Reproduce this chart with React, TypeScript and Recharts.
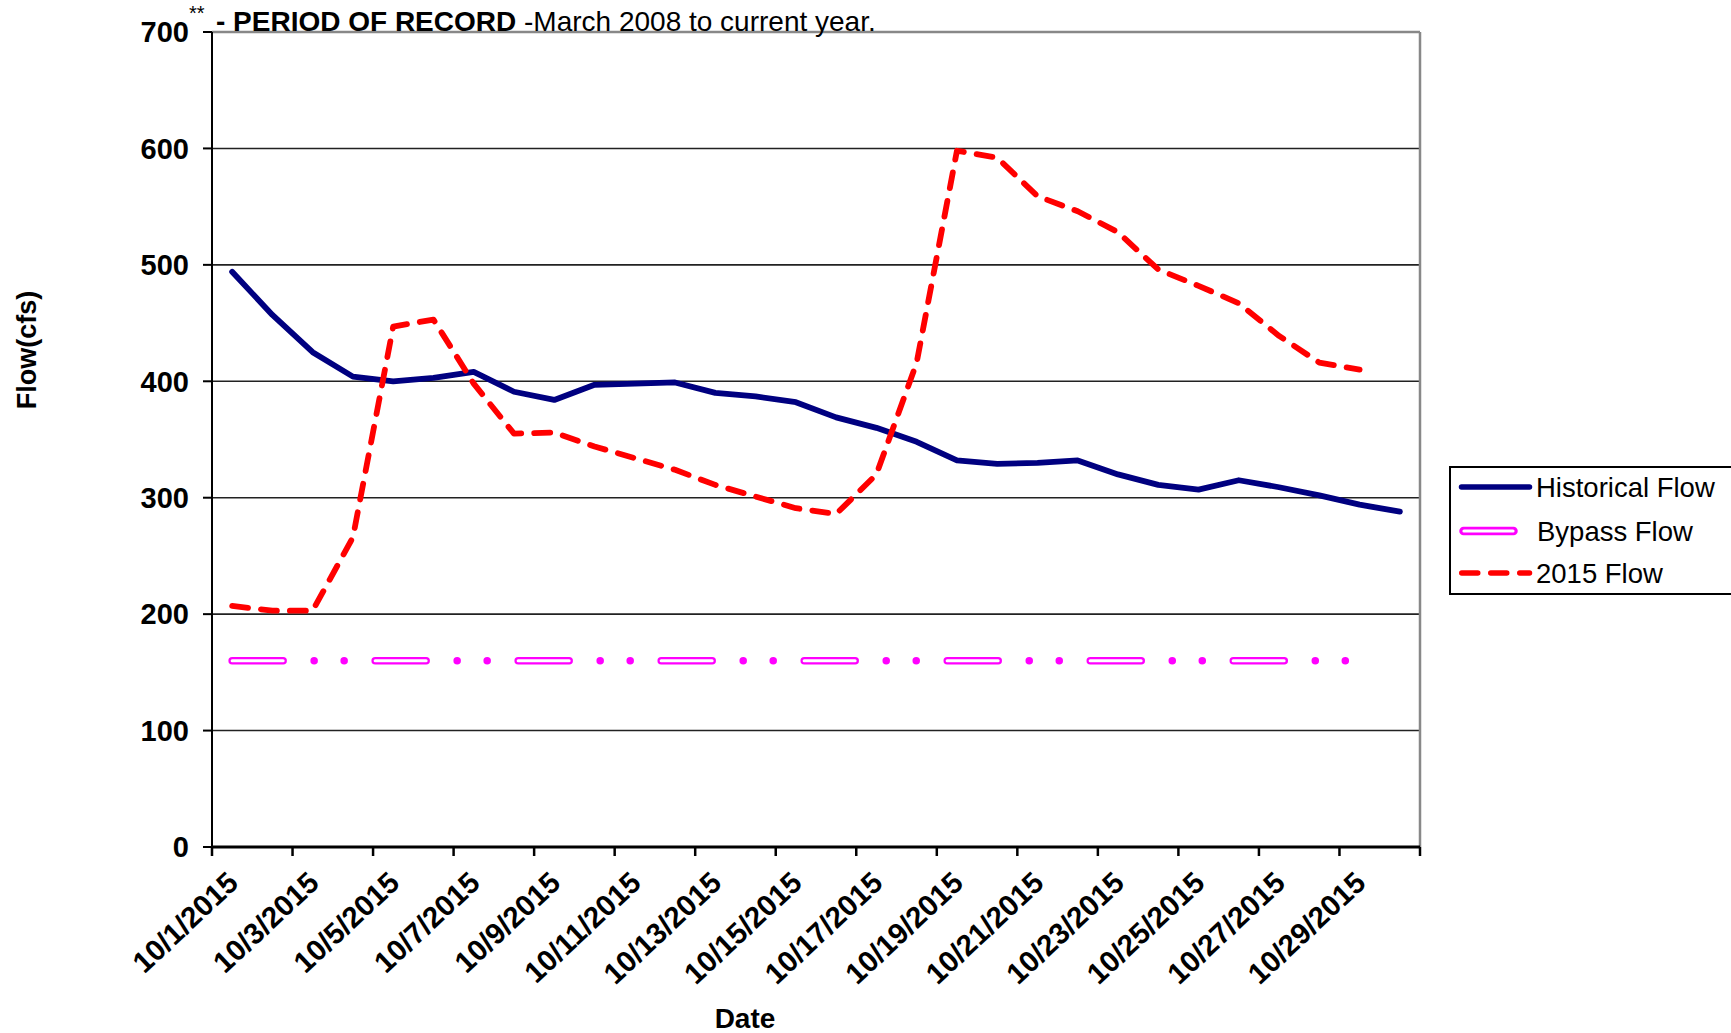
import React from 'react';
import { LineChart, Line, XAxis, YAxis, CartesianGrid, Legend, Label } from 'recharts';

const dates = [
  '10/1/2015', '10/2/2015', '10/3/2015', '10/4/2015', '10/5/2015', '10/6/2015',
  '10/7/2015', '10/8/2015', '10/9/2015', '10/10/2015', '10/11/2015', '10/12/2015',
  '10/13/2015', '10/14/2015', '10/15/2015', '10/16/2015', '10/17/2015', '10/18/2015',
  '10/19/2015', '10/20/2015', '10/21/2015', '10/22/2015', '10/23/2015', '10/24/2015',
  '10/25/2015', '10/26/2015', '10/27/2015', '10/28/2015', '10/29/2015', '10/30/2015',
];

const historicalFlow = [
  494, 457, 425, 404, 400, 403, 408, 391, 384, 397,
  398, 399, 390, 387, 382, 369, 360, 348, 332, 329,
  330, 332, 320, 311, 307, 315, 309, 302, 294, 288,
];

const bypassFlow: (number | null)[] = [
  160, 160, 160, 160, 160, 160, 160, 160, 160, 160,
  160, 160, 160, 160, 160, 160, 160, 160, 160, 160,
  160, 160, 160, 160, 160, 160, 160, 160, 160, null,
];

const flow2015: (number | null)[] = [
  207, 203, 203, 266, 447, 453, 398, 355, 356, 344,
  334, 324, 311, 301, 291, 286, 320, 416, 598, 592,
  559, 546, 528, 496, 482, 467, 439, 416, 410, null,
];

const yTicks = [0, 100, 200, 300, 400, 500, 600, 700];
const gridValues = [100, 200, 300, 400, 500, 600];

const seriesNames = ['Historical Flow', 'Bypass Flow', '2015 Flow'];
const titleParts = ['**', '- PERIOD OF RECORD ', '-March 2008 to current year.'];

const FONT = '"Liberation Sans", Arial, Helvetica, sans-serif';

// half of one category slot (plot width 1208 / 30 categories / 2)
const HALF_SLOT = 1208 / 60;

const data = dates.map((d, i) => ({
  date: d,
  historical: historicalFlow[i],
  bypass: bypassFlow[i],
  flow2015: flow2015[i],
}));

const XTick = (props: any) => {
  const { x, y, payload, index, visibleTicksCount } = props;
  const off = HALF_SLOT;
  const isLast = visibleTicksCount ? index === visibleTicksCount - 1 : payload.value === dates[28];
  const ax = x + 8;
  const ay = y + 38;
  return (
    <g>
      <line x1={x - off} y1={y} x2={x - off} y2={y + 9} stroke="#000" strokeWidth={2.5} />
      {isLast && <line x1={x + 3 * off} y1={y} x2={x + 3 * off} y2={y + 9} stroke="#000" strokeWidth={2.5} />}
      <text
        x={ax}
        y={ay}
        transform={`rotate(-43, ${ax}, ${ay})`}
        textAnchor="end"
        fill="#000"
        fontSize={29.5}
        fontWeight="bold"
        fontFamily={FONT}
      >
        {payload.value}
      </text>
    </g>
  );
};

const LegendBox = () => (
  <div
    style={{
      width: 282,
      height: 129,
      boxSizing: 'border-box',
      borderTop: '2px solid #000',
      borderLeft: '2px solid #000',
      borderBottom: '2px solid #000',
      background: '#fff',
      position: 'relative',
    }}
  >
    <svg width={280} height={125} style={{ position: 'absolute', left: 0, top: 0 }}>
      <line x1={10.5} y1={19} x2={78.5} y2={19} stroke="#000080" strokeWidth={5.5} strokeLinecap="round" />
      <text x={85} y={28.5} fontSize={27.5} fontFamily={FONT} fill="#000">{seriesNames[0]}</text>
      <line x1={12.5} y1={63} x2={62.5} y2={63} stroke="#FF00FF" strokeWidth={8.5} strokeLinecap="round" />
      <line x1={13} y1={63} x2={62} y2={63} stroke="#fff" strokeWidth={3.2} strokeLinecap="round" />
      <text x={86} y={72.5} fontSize={27.5} fontFamily={FONT} fill="#000">{seriesNames[1]}</text>
      <line x1={10.75} y1={105} x2={78.5} y2={105} stroke="#FF0000" strokeWidth={5.5} strokeLinecap="round" strokeDasharray="16 13" />
      <text x={85} y={114.5} fontSize={27.5} fontFamily={FONT} fill="#000">{seriesNames[2]}</text>
    </svg>
  </div>
);

const TitleLabel = () => (
  <text x={189} y={31} fontFamily={FONT} fill="#000">
    <tspan fontSize={20} dy={-11}>{titleParts[0]}</tspan>
    <tspan x={216} dy={11} fontSize={28} fontWeight="bold">{titleParts[1]}</tspan>
    <tspan fontSize={28}>{titleParts[2]}</tspan>
  </text>
);

const DateLabel = () => (
  <text x={745} y={1028} textAnchor="middle" fontSize={28} fontWeight="bold" fontFamily={FONT} fill="#000">
    Date
  </text>
);

const FlowLabel = () => (
  <text
    x={36}
    y={350}
    transform="rotate(-90, 36, 350)"
    textAnchor="middle"
    fontSize={27}
    fontWeight="bold"
    fontFamily={FONT}
    fill="#000"
  >
    Flow(cfs)
  </text>
);

export default function App() {
  return (
    <div
      style={{
        position: 'absolute',
        left: 0,
        top: 0,
        width: 1731,
        height: 1033,
        overflow: 'hidden',
        background: '#fff',
      }}
    >
      <LineChart
        width={1731}
        height={1033}
        data={data}
        margin={{ top: 32, right: 311, bottom: 36, left: 132 }}
      >
        <CartesianGrid vertical={false} horizontalValues={gridValues} stroke="#222" strokeWidth={1.6} />
        <CartesianGrid
          horizontalCoordinatesGenerator={(p: any) => [p.offset.top]}
          verticalCoordinatesGenerator={(p: any) => [p.offset.left + p.offset.width]}
          stroke="#888"
          strokeWidth={2.5}
        />
        <XAxis
          dataKey="date"
          interval={1}
          padding={{ left: HALF_SLOT, right: HALF_SLOT }}
          tickSize={0}
          tickMargin={0}
          tickLine={false}
          height={150}
          axisLine={{ stroke: '#000', strokeWidth: 3 }}
          tick={<XTick />}
        >
          <Label content={() => <DateLabel />} />
          <Label content={() => <TitleLabel />} />
        </XAxis>
        <YAxis
          type="number"
          domain={[0, 700]}
          ticks={yTicks}
          interval={0}
          width={80}
          tickSize={9}
          tickMargin={14}
          axisLine={{ stroke: '#000', strokeWidth: 2 }}
          tickLine={{ stroke: '#000', strokeWidth: 2 }}
          tick={{ fill: '#000', fontSize: 29, fontWeight: 'bold', fontFamily: FONT }}
        >
          <Label content={() => <FlowLabel />} />
        </YAxis>
        <Legend
          layout="horizontal"
          verticalAlign="middle"
          align="center"
          wrapperStyle={{ position: 'absolute', left: 1449, top: 466, width: 282, height: 129 }}
          content={() => <LegendBox />}
        />
        <Line
          name={seriesNames[0]}
          dataKey="historical"
          stroke="#000080"
          strokeWidth={5.8}
          strokeLinejoin="round"
          strokeLinecap="round"
          dot={false}
          activeDot={false}
          isAnimationActive={false}
        />
        <Line
          name={seriesNames[1]}
          dataKey="bypass"
          stroke="#FF00FF"
          strokeWidth={7.5}
          strokeLinecap="round"
          strokeDasharray="51 31 0.01 30 0.01 31"
          dot={false}
          activeDot={false}
          isAnimationActive={false}
        />
        <Line
          name="Bypass Flow inner"
          dataKey="bypass"
          stroke="#FFFFFF"
          strokeWidth={3}
          strokeLinecap="round"
          strokeDasharray="51 92"
          dot={false}
          activeDot={false}
          legendType="none"
          isAnimationActive={false}
        />
        <Line
          name={seriesNames[2]}
          dataKey="flow2015"
          stroke="#FF0000"
          strokeWidth={5.8}
          strokeLinecap="round"
          strokeLinejoin="round"
          strokeDasharray="16 13"
          dot={false}
          activeDot={false}
          isAnimationActive={false}
        />
      </LineChart>
    </div>
  );
}
